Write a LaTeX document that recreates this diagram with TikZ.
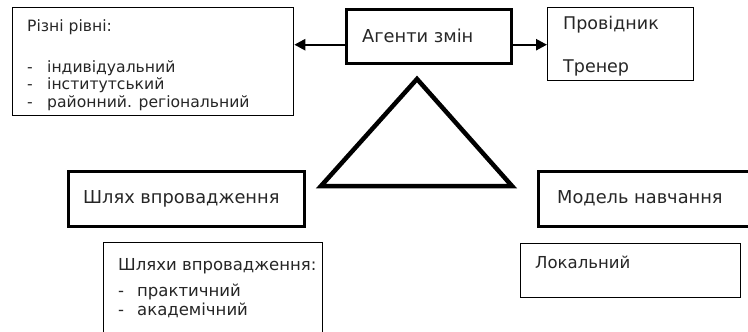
\documentclass[tikz,border=0pt]{standalone}
\usepackage{fontspec}
\setmainfont{DejaVu Sans}
\usetikzlibrary{arrows.meta}
\tikzset{
  thinbox/.style={draw=black, line width=1.3pt, inner sep=0pt, anchor=north west},
  thickbox/.style={draw=black, line width=3.4pt, inner sep=0pt, anchor=north west},
  txt/.style={anchor=base west, inner sep=0pt, font=\fontsize{16.5}{19}\selectfont, text=black!85},
  bigtxt/.style={txt, font=\fontsize{17.8}{20}\selectfont},
  smalltxt/.style={txt, font=\fontsize{15.6}{18}\selectfont},
  arr/.style={line width=2.4pt, -{Triangle[length=11pt,width=11pt]}},
  tri/.style={line width=4.5pt, line join=miter}
}
\begin{document}
\begin{tikzpicture}[x=1pt,y=-1pt]
\useasboundingbox (0,0) rectangle (748,332);
\clip (0,0) rectangle (748,332);
\fill[white] (0,0) rectangle (748,332);
% boxes
\node[thinbox, minimum width=281pt, minimum height=108pt] (levels) at (12,7) {};
\node[thickbox, minimum width=165pt, minimum height=54pt] (agents) at (345,8) {};
\node[thinbox, minimum width=146pt, minimum height=73pt] (guide) at (547,7) {};
\node[thickbox, minimum width=236pt, minimum height=55pt] (path) at (67,170) {};
\node[thickbox, minimum width=230pt, minimum height=55pt] (model) at (537,170) {};
\node[thinbox, minimum width=219pt, minimum height=110pt] (paths) at (103,242) {};
\node[thinbox, minimum width=220pt, minimum height=54pt] (local) at (520,243) {};
% texts
\node[smalltxt] (t1) at (27,31) {Різні рівні:};
\node[smalltxt] (t1a) at (27,72) {-};
\node[smalltxt] (t1b) at (47,72) {індивідуальний};
\node[smalltxt] (t1c) at (27,89) {-};
\node[smalltxt] (t1d) at (47,89) {інститутський};
\node[smalltxt] (t1e) at (27,107) {-};
\node[smalltxt] (t1f) at (47,107) {районний. регіональний};
\node[bigtxt] (t2) at (362,42) {Агенти змін};
\node[txt, font=\fontsize{17.5}{20}\selectfont] (t3) at (563,30) {Провідник};
\node[txt, font=\fontsize{17.5}{20}\selectfont] (t4) at (563,72) {Тренер};
\node[bigtxt] (t5) at (83,203) {Шлях впровадження};
\node[bigtxt] (t6) at (557,203) {Модель навчання};
\node[txt] (t7) at (118,270) {Шляхи впровадження:};
\node[txt] (t7a) at (118,296) {-};
\node[txt] (t7b) at (137,296) {практичний};
\node[txt] (t7c) at (118,315) {-};
\node[txt] (t7d) at (137,315) {академічний};
\node[txt] (t8) at (535,268) {Локальний};
% arrows
\draw[arr] ([yshift=-8pt]agents.west) -- ([yshift=-8pt]agents.west -| levels.east);
\draw[arr] ([yshift=-8pt]agents.east) -- ([yshift=-8pt]agents.east -| guide.west);
% triangle
\coordinate (apex) at (417,79);
\coordinate (bl) at (321,186);
\coordinate (br) at (512,186);
\draw[tri] (apex) -- (bl) -- (br) -- cycle;
\end{tikzpicture}
\end{document}
